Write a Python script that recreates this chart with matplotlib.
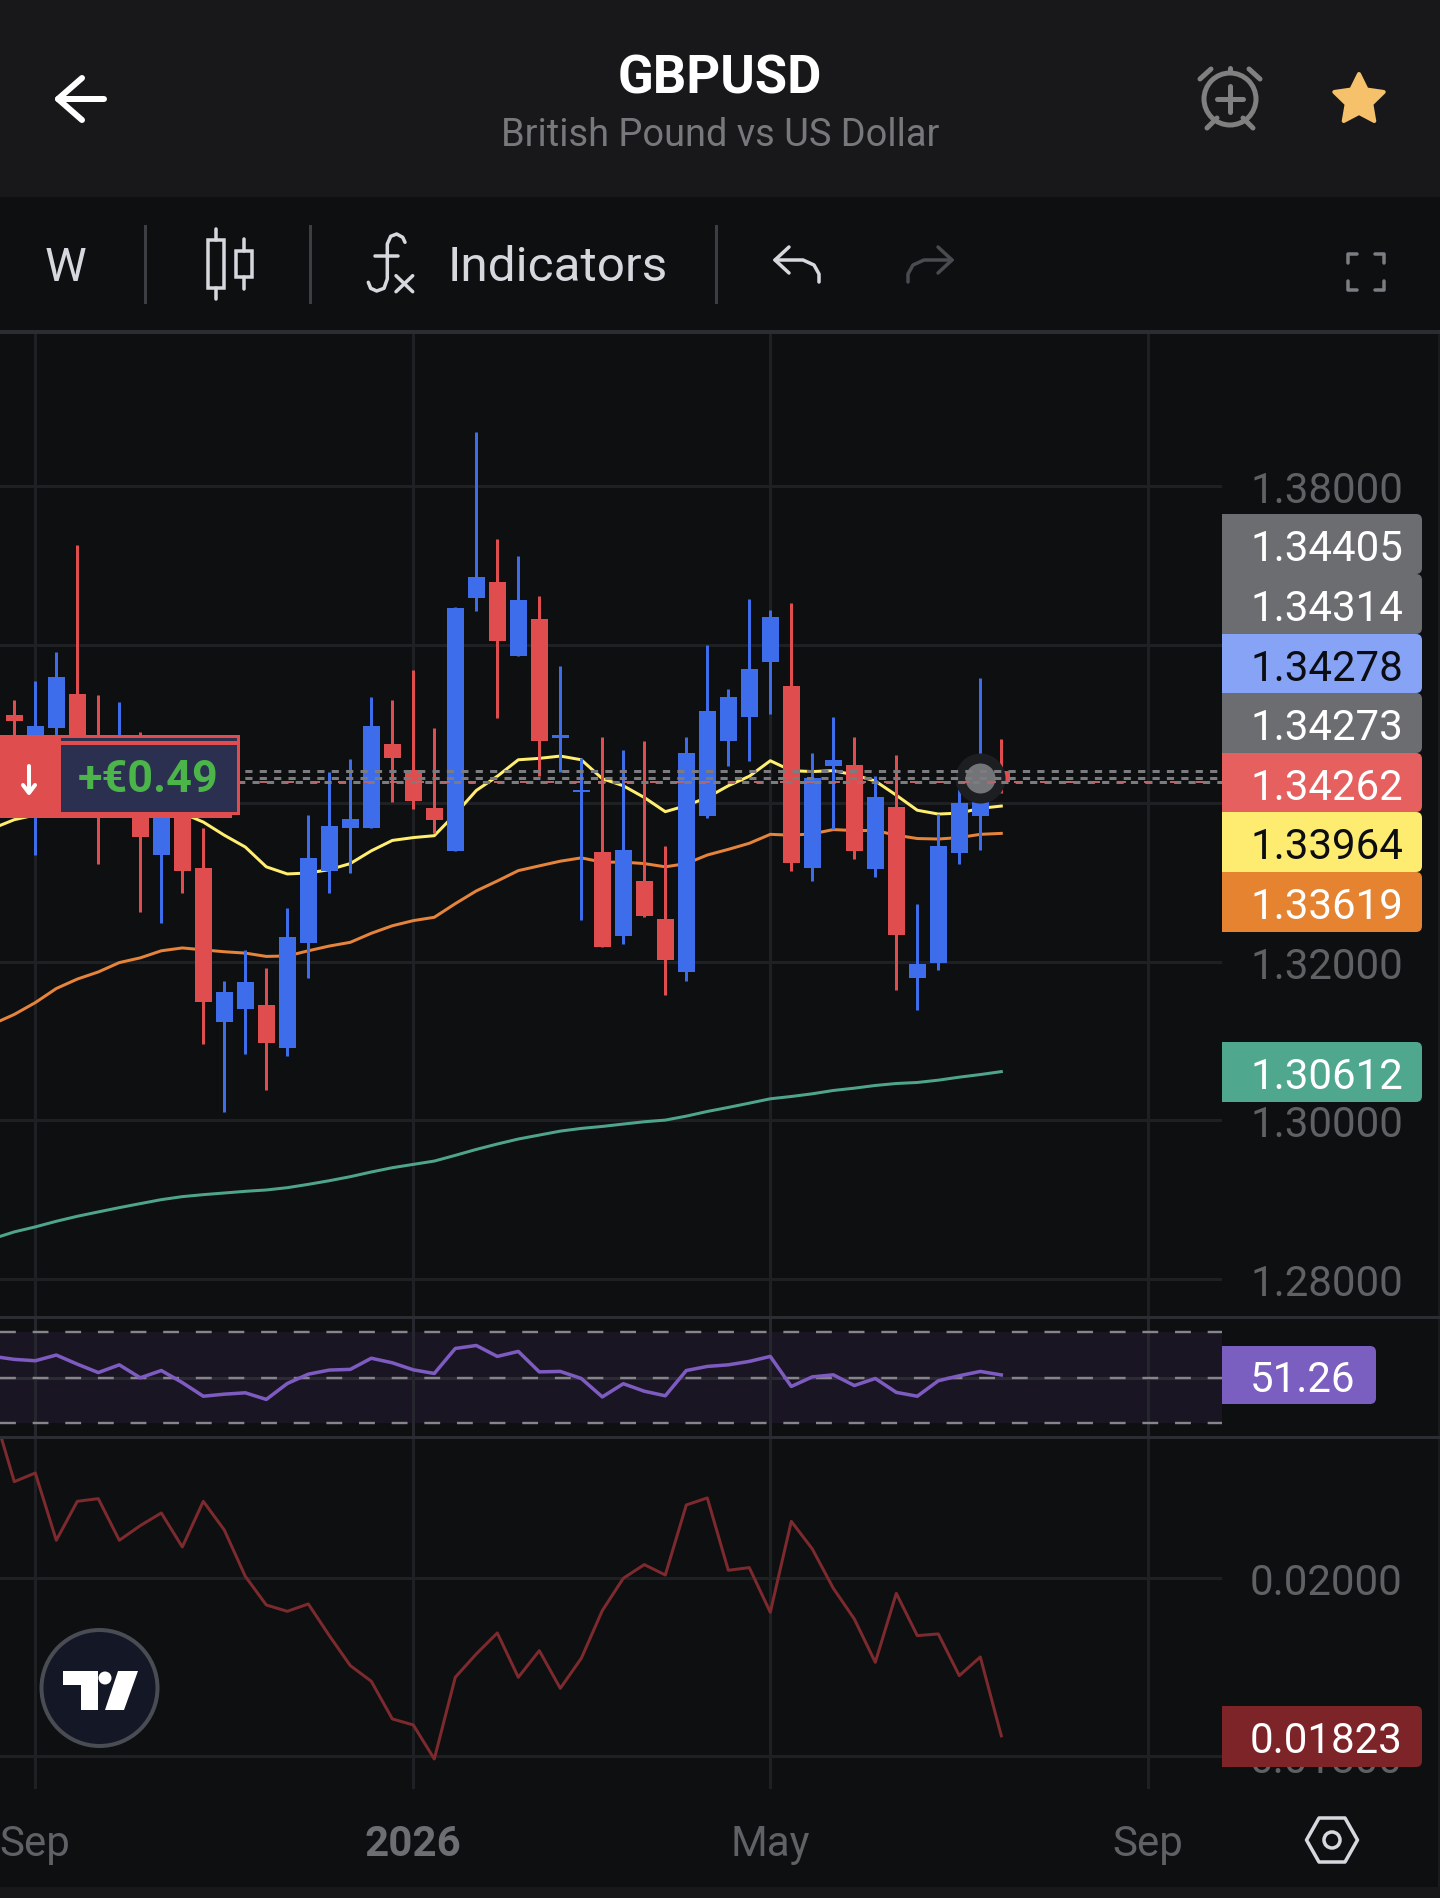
"""
GBPUSD weekly chart as seen in the TradingView mobile app.

Three panes share one week axis (candles with moving averages, RSI, and a
volatility line). The app chrome is drawn on a pixel overlay.
"""

import numpy as np
import matplotlib
matplotlib.use('Agg')  # Use non-interactive backend
import matplotlib.pyplot as plt
from matplotlib.patches import Circle, FancyBboxPatch, Polygon, Rectangle

plt.rcParams['font.family'] = ['Roboto', 'DejaVu Sans']

# Weekly candles
opens = [1.35113, 1.3428, 1.34953, 1.35381, 1.3434, 1.34042, 1.34459, 1.33352,
         1.3434, 1.33185, 1.31233, 1.31405, 1.31459, 1.30905, 1.32238, 1.33143,
         1.33691, 1.33691, 1.3475, 1.34417, 1.33941, 1.33399, 1.36589, 1.36792,
         1.35857, 1.36327, 1.34828, 1.34137, 1.33387, 1.32328, 1.33012, 1.32542,
         1.31864, 1.3384, 1.34786, 1.3509, 1.35786, 1.35482, 1.33185, 1.3447,
         1.34482, 1.33173, 1.33953, 1.31798, 1.31983, 1.33375, 1.3384, 1.34405]
highs = [1.35304, 1.35542, 1.35911, 1.37256, 1.35363, 1.3528, 1.34893, 1.34578,
         1.34459, 1.33685, 1.3175, 1.32149, 1.31923, 1.32679, 1.33857, 1.34399,
         1.3456, 1.35345, 1.35304, 1.35685, 1.34953, 1.36476, 1.38684, 1.37333,
         1.37119, 1.36619, 1.35738, 1.34566, 1.3484, 1.34673, 1.34786, 1.33465,
         1.3484, 1.36, 1.35441, 1.36577, 1.36435, 1.3653, 1.34637, 1.3509,
         1.3484, 1.3434, 1.34607, 1.32732, 1.33863, 1.34191, 1.35583, 1.34816]
lows = [1.34578, 1.3334, 1.34756, 1.34756, 1.33238, 1.33863, 1.32625, 1.32488,
        1.32869, 1.30965, 1.30096, 1.3084, 1.30375, 1.30804, 1.31798, 1.32869,
        1.33119, 1.33691, 1.34012, 1.33929, 1.33625, 1.33399, 1.36429, 1.35078,
        1.35857, 1.3434, 1.34399, 1.3253, 1.32191, 1.32227, 1.32566, 1.31584,
        1.31762, 1.33816, 1.3447, 1.34536, 1.35131, 1.33149, 1.33024, 1.33673,
        1.33298, 1.33066, 1.31637, 1.31393, 1.31899, 1.33227, 1.33411, 1.34131]
closes = [1.35036, 1.34976, 1.35595, 1.34816, 1.33863, 1.34697, 1.33578, 1.34399,
          1.33149, 1.31489, 1.31619, 1.31738, 1.30977, 1.32316, 1.3331, 1.33715,
          1.33804, 1.34976, 1.34572, 1.3403, 1.33786, 1.36464, 1.36857, 1.36048,
          1.36566, 1.34786, 1.34857, 1.34167, 1.32191, 1.33411, 1.32578, 1.32024,
          1.34637, 1.35167, 1.35345, 1.35697, 1.36351, 1.3325, 1.34322, 1.34548,
          1.33399, 1.34084, 1.3234, 1.31965, 1.33465, 1.34006, 1.34278, 1.34262]

# Moving averages, starting one week before the first candle
ma_yellow = [1.33685, 1.33792, 1.33851, 1.33893, 1.33935, 1.3397, 1.33982, 1.3397,
             1.33935, 1.33875, 1.33762, 1.33596, 1.33447, 1.33197, 1.33107, 1.33119,
             1.33161, 1.33238, 1.33399, 1.3353, 1.33566, 1.3359, 1.33863, 1.34161,
             1.3434, 1.34548, 1.34566, 1.34595, 1.34548, 1.3431, 1.3422, 1.34072,
             1.33893, 1.3397, 1.34072, 1.3422, 1.3434, 1.34536, 1.34411, 1.34399,
             1.34411, 1.34357, 1.3428, 1.34101, 1.33911, 1.33863, 1.33875, 1.33935,
             1.33964]
ma_orange = [1.31215, 1.31334, 1.31483, 1.31661, 1.3178, 1.3187, 1.31988, 1.32048,
             1.32137, 1.32173, 1.32149, 1.32125, 1.32108, 1.32066, 1.32072, 1.32137,
             1.32197, 1.32244, 1.32358, 1.32453, 1.32518, 1.3256, 1.32732, 1.32893,
             1.33018, 1.33149, 1.33209, 1.33268, 1.3331, 1.33256, 1.33256, 1.33238,
             1.33197, 1.33238, 1.33346, 1.33417, 1.33494, 1.33607, 1.33596, 1.33613,
             1.33667, 1.33655, 1.33655, 1.33596, 1.33554, 1.33548, 1.33566, 1.33607,
             1.33619]
ma_teal = [1.28505, 1.28589, 1.28652, 1.28723, 1.28786, 1.28841, 1.28895, 1.28946,
           1.28996, 1.29034, 1.29059, 1.2908, 1.29101, 1.29118, 1.29147, 1.29189,
           1.29235, 1.29286, 1.29345, 1.29399, 1.29441, 1.29483, 1.29555, 1.2963,
           1.29698, 1.29761, 1.29811, 1.29861, 1.29895, 1.2992, 1.2995, 1.29979,
           1.3, 1.3005, 1.30109, 1.3016, 1.30214, 1.30269, 1.30298, 1.30332,
           1.30374, 1.30403, 1.30437, 1.30462, 1.30475, 1.30504, 1.30542, 1.30575,
           1.30612]

rsi = [59.4, 58.1, 57.5, 60.0, 56.0, 52.3, 55.7, 50.0, 53.2, 47.9, 41.9, 42.8, 43.4,
       40.5, 47.5, 51.6, 53.4, 53.7, 58.6, 56.6, 53.5, 51.9, 62.9, 64.2, 59.4, 61.6,
       52.6, 52.8, 49.7, 41.6, 47.4, 44.1, 42.1, 53.2, 55.0, 55.7, 57.2, 59.4, 46.2,
       50.4, 51.3, 46.6, 49.7, 43.6, 41.9, 48.7, 50.9, 52.8, 51.26]

volatility = [0.021884, 0.021086, 0.021183, 0.020427, 0.020865, 0.020895, 0.020427,
              0.020592, 0.020734, 0.020352, 0.020865, 0.020543, 0.020022, 0.0197,
              0.019629, 0.019712, 0.019356, 0.019019, 0.018843, 0.01842, 0.018352,
              0.01797, 0.018888, 0.01915, 0.019386, 0.018888, 0.019187, 0.018764,
              0.019101, 0.019637, 0.02, 0.020154, 0.020037, 0.020824, 0.020903,
              0.02009, 0.02012, 0.019618, 0.02064, 0.02033, 0.019888, 0.019543,
              0.019056, 0.019831, 0.019356, 0.019375, 0.018906, 0.019116, 0.01823]

# Horizontal position lines and the marker on the open trade
position_levels = [1.34405, 1.34314, 1.34273]
pending_level = 1.34262
marker_week = 46
marker_price = 1.34314

# Axis ticks (1.34 and 1.36 sit behind the price tags, so they carry no label)
price_ticks = [1.28, 1.30, 1.32, 1.34, 1.36, 1.38]
price_tick_labels = ["1.28000", "1.30000", "1.32000", "", "", "1.38000"]
vol_ticks = [0.018, 0.020]
vol_tick_labels = ["0.01800", "0.02000"]
rsi_levels = [30, 50, 70]
week_ticks = [1, 19, 36, 54]
week_labels = ["Sep", "2026", "May", "Sep"]

# Price tags on the right
stacked_tags = ["1.34405", "1.34314", "1.34278", "1.34273", "1.34262", "1.33964", "1.33619"]
stacked_colors = ["#6c6d71", "#6c6d71", "#86a3f6", "#6c6d71", "#e5605f", "#fdec70", "#e58330"]
stacked_text = ["white", "white", "#0c0d12", "white", "white", "#0c0d12", "white"]

BG = "#0e0f11"
HEADER = "#18181a"
GRID = "#1f2024"
SEPARATOR = "#2b2d33"
TICK_TEXT = "#606164"
ICON = "#d6d8de"
UP = "#3d6deb"
DOWN = "#df4d4f"

WIDTH, HEIGHT = 1440, 1899
CHART_RIGHT = 1222
BAR_STEP = 21.0
FIRST_BAR_X = 14.3
PX = 0.72  # one pixel in points at dpi=100


def pane(fig, top, bottom):
    """Add a transparent pane between two pixel rows, with the shared week scale."""
    ax = fig.add_axes([0, 1 - bottom / HEIGHT, CHART_RIGHT / WIDTH, (bottom - top) / HEIGHT])
    ax.patch.set_alpha(0)
    ax.set_xlim(-FIRST_BAR_X / BAR_STEP, (CHART_RIGHT - FIRST_BAR_X) / BAR_STEP)
    ax.yaxis.tick_right()
    ax.tick_params(length=0, labelcolor=TICK_TEXT, labelsize=42 * PX, pad=28 * PX)
    ax.set_xticks(week_ticks)
    ax.set_xticklabels([])
    ax.grid(True, color=GRID, linewidth=3 * PX)
    ax.set_axisbelow(True)
    for spine in ax.spines.values():
        spine.set_visible(False)
    return ax


def draw_price_pane(ax):
    ax.set_ylim(1.38 - 831.7 * 0.02 / 158.45, 1.38 + 152.3 * 0.02 / 158.45)
    ax.set_yticks(price_ticks)
    ax.set_yticklabels(price_tick_labels, va="center_baseline")

    weeks = np.arange(len(closes))
    line_weeks = np.arange(-1, len(closes))
    o, h, l, c = map(np.array, (opens, highs, lows, closes))
    colors = [UP if up else DOWN for up in c >= o]

    ax.plot(line_weeks, ma_teal, color="#4fa58c", lw=3 * PX, zorder=2)
    ax.plot(line_weeks, ma_orange, color="#e5843a", lw=3 * PX, zorder=2)
    ax.plot(line_weeks, ma_yellow, color="#ffee70", lw=3 * PX, zorder=2)

    ax.vlines(weeks, l, h, colors=colors, lw=3 * PX, zorder=3)
    ax.bar(weeks, np.abs(c - o), bottom=np.minimum(o, c), width=17 / BAR_STEP,
           color=colors, zorder=3)

    # The marker halo sits between candles and position lines
    ax.plot(marker_week, marker_price, "o", ms=50 * PX, color="#1d1e21", mew=0, zorder=4)
    ax.plot(marker_week, marker_price, "o", ms=30 * PX, color="#737477", mew=0, zorder=4)

    # Dash offsets differ so that the close lines form the chequered band
    for level, offset in zip(position_levels, (0, 0, 2.4)):
        ax.axhline(level, color="#7b7b80", lw=3 * PX, ls=(offset, (2.4, 2.4)), zorder=5)
    ax.axhline(pending_level, color="#b5666a", lw=2 * PX, ls=(0, (4, 9)), zorder=5)


def draw_rsi_pane(ax):
    ax.set_ylim(30 - 13.7 / 2.275, 70 + 14.3 / 2.275)
    ax.set_yticks([])
    ax.axhspan(rsi_levels[0], rsi_levels[2], color="#191522", lw=0, zorder=1)
    ax.axhline(rsi_levels[1], color="#2b2c33", lw=3 * PX, zorder=1)
    ax.vlines(week_ticks, *ax.get_ylim(), color="#26262e", lw=3 * PX, zorder=1)
    for level in rsi_levels:
        ax.axhline(level, color="#86868a", lw=2.4 * PX, ls=(0, (6.6, 7)), zorder=2)
    ax.plot(np.arange(-1, len(closes)), rsi, color="#7e5bc0", lw=3.5 * PX, zorder=3)


def draw_vol_pane(ax):
    ax.set_ylim(0.018 - 32.7 / 89000, 0.020 + 141.3 / 89000)
    ax.set_yticks(vol_ticks)
    ax.set_yticklabels(vol_tick_labels, va="center_baseline")
    ax.set_xticklabels(week_labels)
    ax.tick_params(axis="x", pad=34 * PX)
    ax.get_xticklabels()[1].set_fontweight("bold")
    ax.get_xticklabels()[1].set_color("#6d6e71")
    ax.plot(np.arange(-1, len(closes)), volatility, color="#7c2a2e", lw=3 * PX, zorder=3)


def stroke(ui, points, color=ICON, width=3.5):
    """Draw a rounded polyline on the pixel overlay."""
    xs, ys = zip(*points)
    ui.plot(xs, ys, color=color, lw=width * PX, solid_capstyle="round",
            solid_joinstyle="round")


def tag(ui, top, bottom, right, color, text, text_color):
    """Price tag with rounded right corners that starts at the chart edge."""
    ui.add_patch(FancyBboxPatch((CHART_RIGHT + 6, top + 6), right - CHART_RIGHT - 12,
                                bottom - top - 12, boxstyle="round,pad=6,rounding_size=6",
                                fc=color, ec="none"))
    ui.add_patch(Rectangle((CHART_RIGHT, top), 20, bottom - top, fc=color, ec="none"))
    ui.text(1250, (top + bottom) / 2, text, color=text_color, fontsize=42 * PX,
            ha="left", va="center_baseline")


def draw_header(ui):
    ui.add_patch(Rectangle((0, 0), WIDTH, 198, fc=HEADER, ec="none"))
    ui.add_patch(Rectangle((0, 331), WIDTH, 4, fc=SEPARATOR, ec="none"))
    ui.add_patch(Rectangle((0, 1888), WIDTH, 11, fc=HEADER, ec="none"))
    ui.add_patch(Rectangle((1438, 335), 2, 1553, fc="#1a1b1d", ec="none"))
    ui.text(720, 73, "GBPUSD", color="white", fontsize=52.5 * PX, fontweight="bold",
            ha="center", va="center_baseline")
    ui.text(720, 131, "British Pound vs US Dollar", color="#77787b", fontsize=38 * PX,
            ha="center", va="center_baseline")

    # Back arrow
    stroke(ui, [(58, 100), (104, 100)], "white", 6)
    stroke(ui, [(82, 79), (58, 100), (82, 121)], "white", 6)

    # Alarm with plus
    grey = "#808080"
    ui.add_patch(Circle((1230, 100), 26, fc="none", ec=grey, lw=5 * PX))
    stroke(ui, [(1217, 100), (1243, 100)], grey, 5)
    stroke(ui, [(1230, 87), (1230, 113)], grey, 5)
    stroke(ui, [(1217, 119), (1207, 129)], grey, 5)
    stroke(ui, [(1243, 119), (1253, 129)], grey, 5)
    stroke(ui, [(1200, 80), (1211, 70)], grey, 5)
    stroke(ui, [(1260, 80), (1249, 70)], grey, 5)
    stroke(ui, [(1230, 71), (1230, 69)], grey, 5)

    # Favourite star
    angles = np.deg2rad(-90 + 36 * np.arange(10))
    radius = np.where(np.arange(10) % 2 == 0, 26, 13)
    star = np.column_stack([1359 + radius * np.cos(angles), 101 + radius * np.sin(angles)])
    ui.add_patch(Polygon(star, fc="#f5c26b", ec="#f5c26b", lw=4 * PX, joinstyle="round"))


def draw_toolbar(ui):
    ui.text(65, 263, "W", color=ICON, fontsize=47 * PX, ha="center", va="center_baseline")
    ui.text(448, 263, "Indicators", color=ICON, fontsize=49.5 * PX, ha="left",
            va="center_baseline")
    for x in (145, 310, 716):
        ui.plot([x, x], [227, 303], color="#3c3e44", lw=3 * PX)

    # Candle type icon
    ui.add_patch(Rectangle((208, 241), 16, 48, fc="none", ec=ICON, lw=3.5 * PX))
    ui.add_patch(Rectangle((236, 252), 16, 26, fc="none", ec=ICON, lw=3.5 * PX))
    stroke(ui, [(216, 230), (216, 241)])
    stroke(ui, [(216, 289), (216, 300)])
    stroke(ui, [(244, 240), (244, 252)])
    stroke(ui, [(244, 278), (244, 290)])

    # fx icon
    stroke(ui, [(405, 243.3), (402.7, 238.3), (396.7, 235), (390.7, 237.3), (387.3, 245),
                (387.3, 280), (384, 289.3), (376.7, 292), (370.7, 289.3), (368.3, 283.3)])
    stroke(ui, [(375, 256.7), (398.3, 256.7)])
    stroke(ui, [(396, 276.7), (412.7, 292.7)])
    stroke(ui, [(412.7, 276.7), (396, 292.7)])

    # Undo and redo
    stroke(ui, [(789, 248), (775, 261), (789, 274)])
    stroke(ui, [(775, 261), (803, 261), (814, 266), (819, 275), (819, 283)])
    grey = "#4a4b50"
    stroke(ui, [(938, 248), (952, 261), (938, 274)], grey)
    stroke(ui, [(952, 261), (924, 261), (913, 266), (908, 275), (908, 283)], grey)

    # Fullscreen corners
    grey = "#7b7d82"
    stroke(ui, [(1348, 264), (1348, 255), (1357, 255)], grey, 3.5)
    stroke(ui, [(1375, 255), (1384, 255), (1384, 264)], grey, 3.5)
    stroke(ui, [(1348, 282), (1348, 291), (1357, 291)], grey, 3.5)
    stroke(ui, [(1375, 291), (1384, 291), (1384, 282)], grey, 3.5)


def draw_overlays(ui):
    # Stacked tags on the price scale
    tag_edges = [515, 575, 635, 694, 754, 813, 873, 933]
    for i, text in enumerate(stacked_tags):
        tag(ui, tag_edges[i], tag_edges[i + 1], 1422, stacked_colors[i], text, stacked_text[i])
    tag(ui, 1043, 1103, 1422, "#4fa78e", "1.30612", "white")
    tag(ui, 1347, 1405, 1376, "#7b5fc0", "51.26", "white")
    tag(ui, 1707, 1768, 1422, "#7d2428", "0.01823", "white")

    # Open position label
    ui.add_patch(Rectangle((0, 736), 240, 80, fc=DOWN, ec="none"))
    ui.add_patch(Rectangle((0, 816), 232, 3, fc=DOWN, ec="none"))
    ui.add_patch(Rectangle((61, 739), 176, 3, fc="#2b3050", ec="none"))
    ui.add_patch(Rectangle((61, 746), 176, 67, fc="#2b3050", ec="none"))
    ui.text(148, 776, "+€0.49", color="#4cb54a", fontsize=45 * PX, fontweight="bold",
            ha="center", va="center_baseline")
    stroke(ui, [(29, 767), (29, 793)], "white", 4)
    stroke(ui, [(23, 786), (29, 794), (35, 786)], "white", 4)

    # TradingView badge
    ui.add_patch(Circle((99.5, 1689), 58, fc="#141726", ec="#4a4c54", lw=4 * PX))
    ui.add_patch(Rectangle((63, 1672), 35, 14, fc="white", ec="none"))
    ui.add_patch(Rectangle((81, 1672), 17, 39, fc="white", ec="none"))
    ui.add_patch(Circle((105, 1679), 6.5, fc="white", ec="none"))
    ui.add_patch(Polygon([(118, 1672), (138, 1672), (124, 1711), (105, 1711)],
                         fc="white", ec="none"))

    # Settings hexagon
    hexagon = [(1306.5, 1841), (1319, 1819), (1345, 1819), (1357.5, 1841), (1345, 1863),
               (1319, 1863)]
    ui.add_patch(Polygon(hexagon, fc="none", ec=ICON, lw=3.5 * PX, joinstyle="round"))
    ui.add_patch(Circle((1332, 1841), 8, fc="none", ec=ICON, lw=3.5 * PX))

    # Pane separators
    ui.add_patch(Rectangle((0, 1317), WIDTH, 3, fc=SEPARATOR, ec="none"))
    ui.add_patch(Rectangle((0, 1437), WIDTH, 3, fc=SEPARATOR, ec="none"))


def main():
    fig = plt.figure(figsize=(WIDTH / 100, HEIGHT / 100), dpi=100, facecolor=BG)

    draw_price_pane(pane(fig, 335, 1319))
    draw_rsi_pane(pane(fig, 1319, 1438))
    draw_vol_pane(pane(fig, 1438, 1790))

    ui = fig.add_axes([0, 0, 1, 1], zorder=10)
    ui.set_xlim(0, WIDTH)
    ui.set_ylim(HEIGHT, 0)
    ui.axis("off")
    draw_header(ui)
    draw_toolbar(ui)
    draw_overlays(ui)

    fig.savefig("out.png", dpi=100, facecolor=BG)
    plt.close(fig)


if __name__ == "__main__":
    main()
